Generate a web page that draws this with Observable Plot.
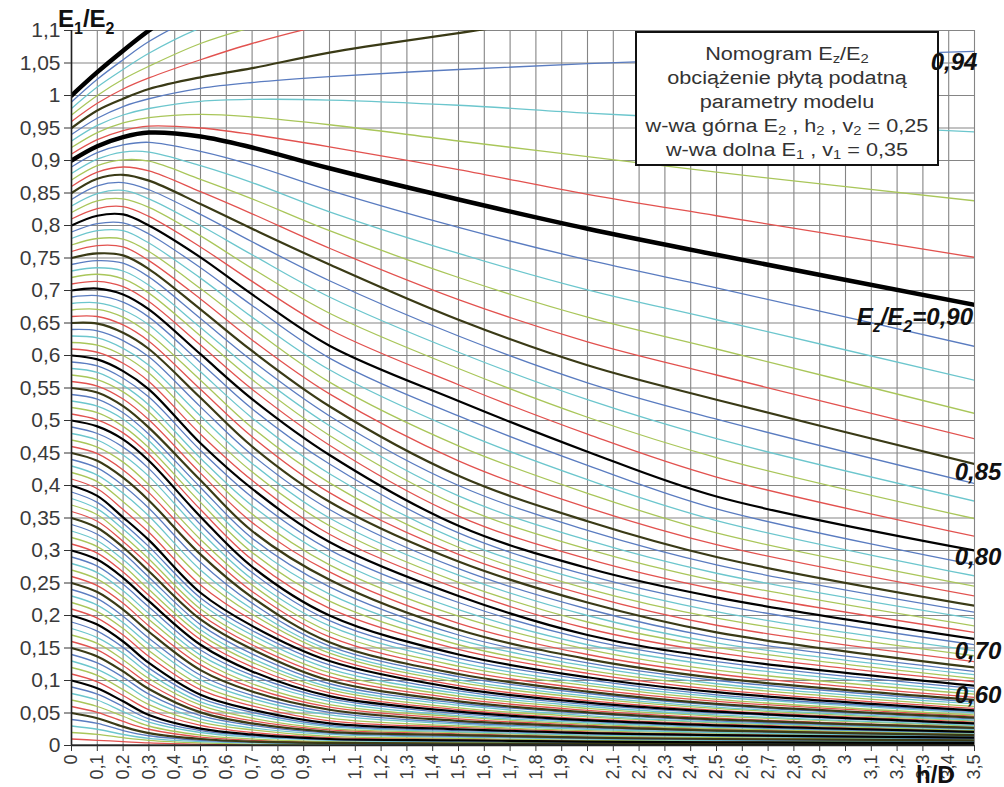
<!DOCTYPE html>
<html><head><meta charset="utf-8">
<script src="https://cdn.jsdelivr.net/npm/d3@7"></script>
<script src="https://cdn.jsdelivr.net/npm/@observablehq/plot@0.6"></script>
<style>
html,body{margin:0;padding:0;background:#fff;}
#chart{width:1004px;height:787px;overflow:hidden;}
</style></head><body><div id="chart"></div>
<script>
// h/D sample positions at which each curve was read
const hD = [0, 0.1, 0.2, 0.3, 0.5, 0.7, 1.0, 1.5, 2.0, 2.5, 3.5];

// curve parameter Ez/E2
const ezE2 = [0.00,0.01,0.02,0.03,0.04,0.05,0.06,0.07,0.08,0.09,
  0.10,0.11,0.12,0.13,0.14,0.15,0.16,0.17,0.18,0.19,
  0.20,0.21,0.22,0.23,0.24,0.25,0.26,0.27,0.28,0.29,
  0.30,0.31,0.32,0.33,0.34,0.35,0.36,0.37,0.38,0.39,
  0.40,0.41,0.42,0.43,0.44,0.45,0.46,0.47,0.48,0.49,
  0.50,0.51,0.52,0.53,0.54,0.55,0.56,0.57,0.58,0.59,
  0.60,0.61,0.62,0.63,0.64,0.65,0.66,0.67,0.68,0.69,
  0.70,0.71,0.72,0.73,0.74,0.75,0.76,0.77,0.78,0.79,
  0.80,0.81,0.82,0.83,0.84,0.85,0.86,0.87,0.88,0.89,
  0.90,0.91,0.92,0.93,0.94,0.95,0.96,0.97,0.98,0.99,1.00];

// E1/E2 read for each curve at the hD positions above
const e1e2 = [
[0,0,0,0,0,0,0,0,0,0,0],
[.010,.008,.006,.004,.002,.001,.001,.001,.001,.001,.001],
[.020,.017,.012,.008,.004,.002,.002,.001,.001,.001,.001],
[.030,.025,.017,.011,.006,.004,.002,.002,.002,.001,.001],
[.040,.034,.023,.015,.008,.005,.003,.002,.002,.002,.002],
[.050,.042,.029,.019,.010,.006,.004,.003,.003,.002,.002],
[.060,.051,.037,.025,.013,.008,.005,.004,.004,.003,.002],
[.070,.060,.045,.030,.016,.010,.006,.005,.004,.003,.003],
[.080,.070,.052,.036,.020,.013,.008,.006,.005,.004,.003],
[.090,.079,.060,.041,.023,.015,.009,.007,.005,.004,.004],
[.100,.088,.068,.047,.026,.017,.010,.008,.006,.005,.004],
[.110,.098,.077,.055,.031,.020,.012,.010,.007,.006,.005],
[.120,.108,.086,.063,.036,.024,.014,.011,.008,.007,.006],
[.130,.117,.096,.071,.041,.027,.017,.013,.010,.008,.006],
[.140,.127,.105,.079,.046,.031,.019,.014,.011,.009,.007],
[.150,.137,.114,.087,.051,.034,.021,.016,.012,.010,.008],
[.160,.147,.123,.095,.056,.038,.024,.018,.013,.011,.009],
[.170,.157,.132,.103,.062,.042,.026,.020,.015,.012,.010],
[.180,.166,.142,.111,.067,.047,.029,.021,.016,.014,.010],
[.190,.176,.151,.119,.073,.051,.031,.023,.018,.015,.011],
[.200,.186,.160,.127,.078,.055,.034,.025,.019,.016,.012],
[.210,.196,.170,.137,.086,.061,.038,.028,.021,.017,.013],
[.220,.206,.180,.146,.093,.066,.042,.030,.023,.019,.014],
[.230,.216,.189,.156,.101,.072,.047,.033,.025,.020,.014],
[.240,.226,.199,.165,.108,.077,.051,.035,.027,.022,.015],
[.250,.236,.209,.175,.116,.083,.055,.038,.029,.023,.016],
[.260,.246,.219,.184,.124,.089,.059,.041,.031,.025,.017],
[.270,.256,.229,.194,.132,.095,.063,.044,.033,.026,.018],
[.280,.266,.238,.203,.139,.102,.068,.046,.035,.028,.019],
[.290,.276,.248,.213,.147,.108,.072,.049,.037,.029,.020],
[.300,.286,.258,.222,.155,.114,.076,.052,.039,.031,.021],
[.310,.296,.267,.231,.163,.121,.081,.055,.041,.033,.022],
[.320,.306,.277,.240,.171,.128,.086,.058,.044,.035,.023],
[.330,.315,.286,.250,.178,.134,.090,.062,.046,.036,.025],
[.340,.325,.296,.259,.186,.141,.095,.065,.049,.038,.026],
[.350,.335,.305,.268,.194,.148,.100,.068,.051,.040,.027],
[.360,.345,.314,.278,.202,.155,.106,.072,.054,.042,.028],
[.370,.355,.323,.287,.210,.162,.112,.076,.057,.045,.030],
[.380,.364,.333,.297,.219,.170,.118,.080,.060,.047,.031],
[.390,.374,.342,.306,.227,.177,.124,.084,.063,.050,.033],
[.400,.384,.351,.316,.235,.184,.130,.088,.066,.052,.034],
[.410,.395,.363,.328,.247,.193,.136,.092,.069,.054,.036],
[.420,.406,.375,.340,.259,.202,.142,.097,.073,.057,.038],
[.430,.416,.388,.353,.270,.210,.147,.101,.076,.059,.039],
[.440,.427,.400,.365,.282,.219,.153,.106,.080,.062,.041],
[.450,.438,.412,.377,.294,.228,.159,.110,.083,.064,.043],
[.460,.449,.424,.389,.306,.237,.167,.116,.087,.068,.045],
[.470,.459,.436,.401,.317,.247,.175,.122,.092,.071,.047],
[.480,.470,.447,.414,.329,.256,.184,.128,.096,.075,.050],
[.490,.480,.459,.426,.340,.266,.192,.134,.101,.078,.052],
[.500,.491,.471,.438,.352,.275,.200,.140,.105,.082,.054],
[.510,.501,.481,.448,.363,.286,.211,.148,.111,.086,.057],
[.520,.512,.491,.458,.374,.297,.222,.155,.116,.091,.060],
[.530,.522,.502,.469,.386,.308,.233,.163,.122,.095,.064],
[.540,.533,.512,.479,.397,.319,.244,.170,.127,.100,.067],
[.550,.543,.522,.489,.408,.330,.255,.178,.133,.104,.070],
[.560,.553,.533,.501,.419,.343,.267,.188,.140,.110,.074],
[.570,.563,.544,.513,.431,.356,.278,.199,.148,.116,.079],
[.580,.574,.554,.524,.442,.369,.290,.209,.155,.123,.083],
[.590,.584,.565,.536,.454,.382,.301,.220,.163,.129,.088],
[.600,.594,.576,.548,.465,.395,.313,.230,.170,.135,.092],
[.610,.605,.588,.560,.479,.408,.325,.241,.180,.143,.098],
[.620,.616,.600,.573,.493,.421,.338,.251,.190,.151,.103],
[.630,.627,.611,.585,.507,.434,.350,.262,.200,.158,.109],
[.640,.638,.623,.598,.521,.447,.363,.272,.210,.166,.114],
[.650,.649,.635,.610,.535,.460,.375,.283,.220,.174,.120],
[.660,.660,.647,.622,.548,.475,.389,.294,.231,.185,.129],
[.670,.671,.659,.634,.562,.489,.404,.305,.241,.196,.138],
[.680,.681,.670,.647,.575,.504,.418,.316,.252,.206,.146],
[.690,.692,.682,.659,.589,.518,.433,.327,.262,.217,.155],
[.700,.703,.694,.671,.602,.533,.447,.338,.273,.228,.164],
[.710,.714,.706,.683,.616,.548,.462,.353,.287,.240,.174],
[.720,.725,.718,.696,.630,.563,.477,.369,.302,.253,.184],
[.730,.735,.730,.708,.643,.577,.492,.384,.316,.265,.195],
[.740,.746,.742,.721,.657,.592,.507,.400,.331,.278,.205],
[.750,.757,.754,.733,.671,.607,.522,.415,.345,.290,.215],
[.760,.769,.767,.746,.687,.624,.541,.438,.366,.309,.230],
[.770,.780,.779,.760,.703,.642,.559,.461,.388,.327,.245],
[.780,.792,.792,.773,.719,.659,.578,.484,.409,.346,.261],
[.790,.803,.804,.787,.735,.677,.596,.507,.431,.364,.278],
[.800,.815,.817,.800,.751,.694,.615,.530,.452,.383,.300],
[.810,.826,.829,.814,.767,.714,.640,.555,.479,.413,.322],
[.820,.838,.841,.828,.784,.734,.665,.580,.505,.443,.349],
[.830,.849,.854,.841,.800,.755,.690,.605,.532,.472,.376],
[.840,.861,.866,.855,.817,.775,.715,.630,.558,.502,.403],
[.850,.872,.878,.869,.833,.795,.740,.655,.585,.532,.433],
[.860,.882,.890,.884,.852,.818,.765,.686,.621,.570,.472],
[.870,.892,.901,.899,.871,.841,.792,.720,.659,.610,.511],
[.880,.902,.913,.913,.892,.866,.821,.757,.701,.655,.562],
[.890,.912,.924,.928,.914,.893,.854,.797,.747,.704,.614],
[.900,.922,.936,.943,.937,.920,.888,.840,.795,.755,.678],
[.910,.932,.946,.953,.950,.940,.921,.886,.848,.815,.751],
[.920,.943,.958,.966,.971,.967,.955,.930,.906,.882,.838],
[.930,.954,.970,.980,.991,.994,.993,.985,.973,.963,.944],
[.940,.965,.983,.995,1.011,1.020,1.029,1.040,1.049,1.056,1.068],
[.950,.977,.995,1.010,1.028,1.042,1.066,1.096,1.125,1.150,1.190],
[.960,.988,1.010,1.027,1.055,1.080,1.110,1.140,1.165,1.185,1.220],
[.970,1.000,1.025,1.045,1.080,1.105,1.135,1.165,1.190,1.215,1.250],
[.980,1.013,1.040,1.065,1.104,1.130,1.160,1.200,1.240,1.270,1.320],
[.990,1.025,1.055,1.083,1.125,1.160,1.200,1.260,1.310,1.350,1.420],
[1.000,1.036,1.069,1.100,1.155,1.200,1.260,1.340,1.410,1.470,1.570]
];

const xTicks = [0,0.1,0.2,0.3,0.4,0.5,0.6,0.7,0.8,0.9,1,1.1,1.2,1.3,1.4,1.5,1.6,1.7,1.8,1.9,
  2,2.1,2.2,2.3,2.4,2.5,2.6,2.7,2.8,2.9,3,3.1,3.2,3.3,3.4,3.5];
const yTicks = [0,0.05,0.1,0.15,0.2,0.25,0.3,0.35,0.4,0.45,0.5,0.55,0.6,0.65,0.7,0.75,0.8,0.85,0.9,0.95,1,1.05,1.1];

// curves labelled at the right edge
const labelledCurves = [0.94, 0.90, 0.85, 0.80, 0.70, 0.60];
const labelTexts = ["0,94", "E_z/E_2=0,90", "0,85", "0,80", "0,70", "0,60"];

const legendLines = [
  "Nomogram E_z/E_2",
  "obciążenie płytą podatną",
  "parametry modelu",
  "w-wa górna E_2 , h_2 , v_2 = 0,25",
  "w-wa dolna E_1 , v_1 = 0,35"
];

// ---------- build table ----------
const rows = [];
ezE2.forEach((c, i) => hD.forEach((x, j) => rows.push({c, k: i, x, y: e1e2[i][j]})));

const thinColors = ["#e2524f", "#a9c65a", "#6cc6cd", "#5a7cc0"]; // k%5 = 1,2,3,4
const fmt = v => String(+(+v).toFixed(2)).replace(".", ",");
const FONT = "'Liberation Sans', Arial, Helvetica, sans-serif";

const lineOpts = {x: "x", y: "y", z: "k", curve: "catmull-rom", clip: true};
const marks = [
  Plot.gridX(xTicks, {stroke: "#858585", strokeOpacity: 1, strokeWidth: 1.1}),
  Plot.gridY(yTicks, {stroke: "#858585", strokeOpacity: 1, strokeWidth: 1.1})
];
thinColors.forEach((col, m) => {
  marks.push(Plot.line(rows.filter(d => d.k % 5 === m + 1), {...lineOpts, stroke: col, strokeWidth: 1.3}));
});
marks.push(Plot.line(rows.filter(d => d.k % 10 === 5), {...lineOpts, stroke: "#3a3a16", strokeWidth: 2.2}));
marks.push(Plot.line(rows.filter(d => d.k % 10 === 0 && d.k !== 90 && d.k !== 100), {...lineOpts, stroke: "#000", strokeWidth: 2.2}));
marks.push(Plot.line(rows.filter(d => d.k === 90 || d.k === 100), {...lineOpts, stroke: "#000", strokeWidth: 4.5}));
marks.push(Plot.ruleX([0], {stroke: "#222", strokeWidth: 1.6}));
marks.push(Plot.ruleY([0], {stroke: "#222", strokeWidth: 1.6}));
marks.push(Plot.axisX(xTicks, {tickFormat: fmt, tickRotate: -90, fontSize: 18, tickSize: 6, tickPadding: 3, label: null, stroke: "#333", fill: "#3a3a3a"}));
marks.push(Plot.axisY(yTicks, {tickFormat: fmt, fontSize: 21, tickSize: 7, tickPadding: 4, label: null, stroke: "#333", fill: "#3a3a3a"}));

const plot = Plot.plot({
  width: 1004, height: 787,
  marginLeft: 71, marginRight: 30, marginTop: 30, marginBottom: 42,
  x: {domain: [0, 3.5]},
  y: {domain: [0, 1.1]},
  style: {fontFamily: FONT, background: "#fff", color: "#333", overflow: "visible"},
  marks
});
document.getElementById("chart").appendChild(plot);

// ---------- annotations ----------
const sxo = plot.scale("x"), syo = plot.scale("y");
const X = v => sxo.apply ? sxo.apply(v) : d3.scaleLinear(sxo.domain, sxo.range)(v);
const Y = v => syo.apply ? syo.apply(v) : d3.scaleLinear(syo.domain, syo.range)(v);
const svg = d3.select(plot);
const g = svg.append("g").attr("font-family", FONT);

// text with _x subscripts
function rich(parent, x, y, str, o) {
  const t = parent.append("text").attr("x", x).attr("y", y)
    .attr("text-anchor", o.anchor || "middle")
    .attr("font-size", o.size).attr("font-weight", o.weight || "normal")
    .attr("font-style", o.style || "normal").attr("fill", o.fill || "#333");
  const parts = str.split(/(_.)/).filter(s => s.length);
  let shift = 0;
  const subShift = o.subShift != null ? o.subShift : Math.round(o.size * 0.3);
  parts.forEach(p => {
    const sub = p[0] === "_";
    const ts = t.append("tspan").text(sub ? p.slice(1) : p);
    const target = sub ? subShift : 0;
    if (target !== shift) { ts.attr("dy", target - shift); shift = target; }
    if (sub) ts.attr("font-size", Math.round(o.size * 0.68));
  });
  return t;
}

// legend box
const box = {x: 636, y: 32, w: 302, h: 133};
g.append("rect").attr("x", box.x).attr("y", box.y).attr("width", box.w).attr("height", box.h)
  .attr("fill", "#fff").attr("stroke", "#111").attr("stroke-width", 2);
const cx = box.x + box.w / 2;
const legendG = g.append("g").attr("transform", `translate(${cx},0) scale(1.14,1) translate(${-cx},0)`);
const lineY = [60, 84, 108, 132, 156];
legendLines.forEach((s, i) => rich(legendG, cx, lineY[i], s, {size: 19, fill: "#333", subShift: 3}));

// right-edge curve labels
const labelStyle = {
  "0,94": {dx: -20, dy: 19, anchor: "middle"},
  "E_z/E_2=0,90": {dx: -1, dy: 21, anchor: "end"},
  "0,85": {dx: 4, dy: 16, anchor: "middle"},
  "0,80": {dx: 4, dy: 15, anchor: "middle"},
  "0,70": {dx: 4, dy: 21, anchor: "middle"},
  "0,60": {dx: 4, dy: 18, anchor: "middle"}
};
labelledCurves.forEach((c, i) => {
  const k = ezE2.indexOf(c);
  const end = e1e2[k][e1e2[k].length - 1];
  const s = labelStyle[labelTexts[i]];
  rich(g, X(hD[hD.length - 1]) + s.dx, Y(end) + s.dy, labelTexts[i],
       {size: 24, weight: "bold", style: "italic", fill: "#111", anchor: s.anchor});
});

// axis titles
rich(g, 58, 27, "E_1/E_2", {size: 24, weight: "bold", fill: "#111", anchor: "start"});
rich(g, 916, 783, "h/D", {size: 24, weight: "bold", fill: "#111", anchor: "start"});
</script>
</body></html>
